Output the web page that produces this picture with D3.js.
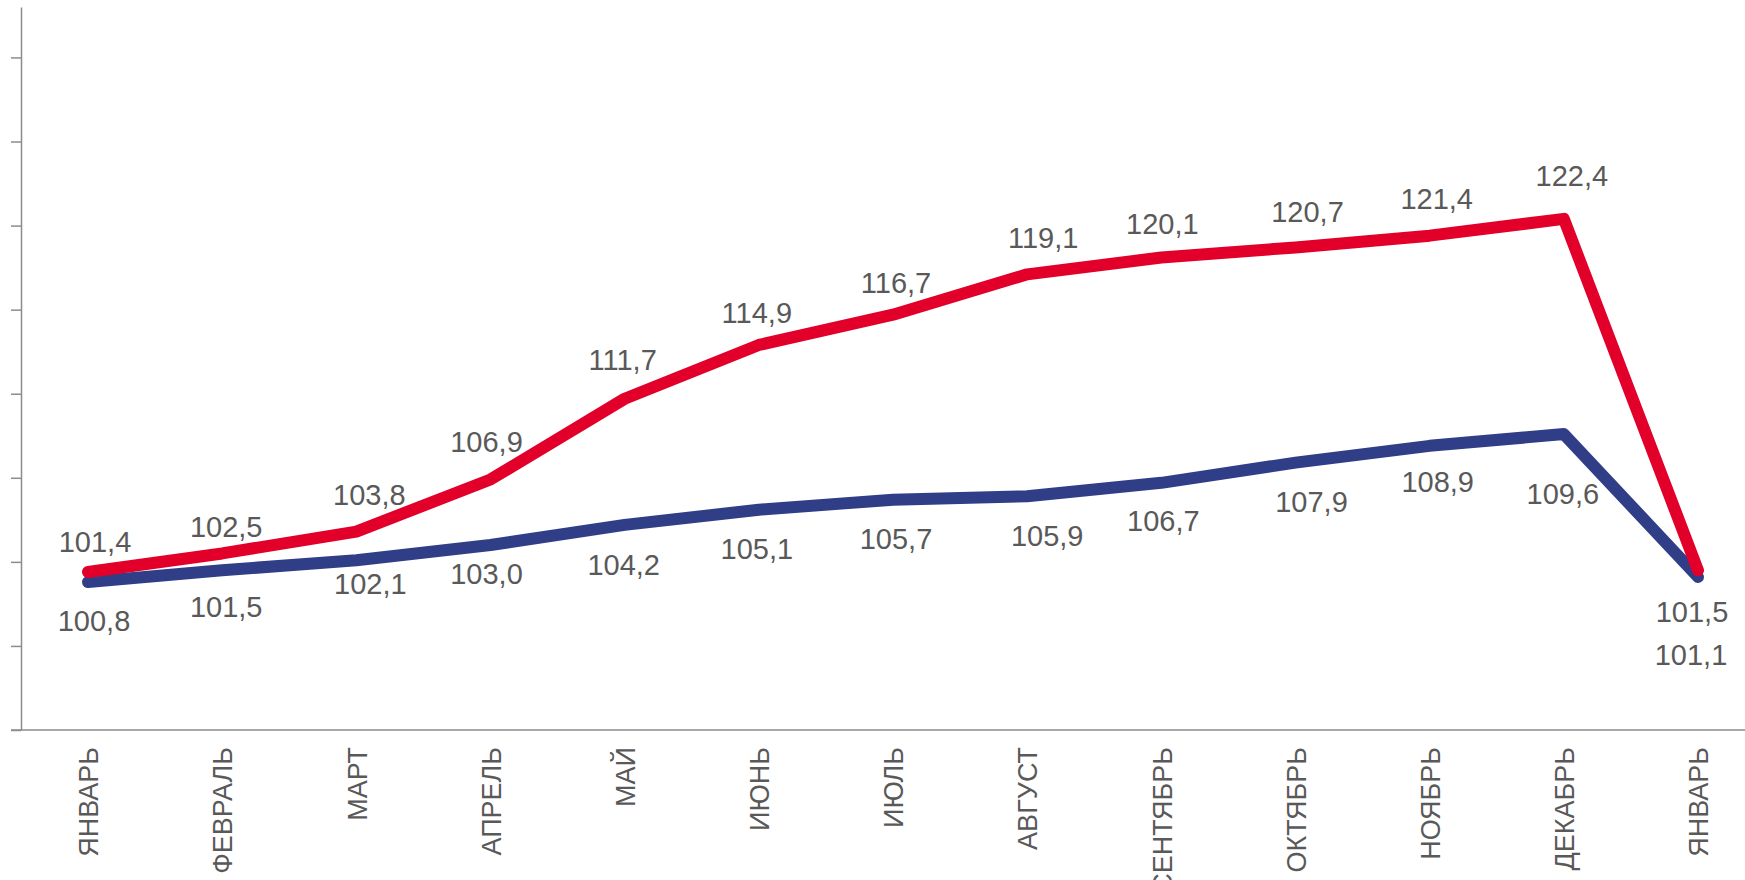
<!doctype html>
<html lang="ru">
<head>
<meta charset="UTF-8">
<title>Индексы по месяцам</title>
<script src="https://d3js.org/d3.v7.min.js"></script>
<style>
  body { margin: 0; background: #fff; }
  svg { display: block; }
</style>
</head>
<body>
<script>
  // месяцы (последний январь - следующий год)
  var months = ["ЯНВАРЬ", "ФЕВРАЛЬ", "МАРТ", "АПРЕЛЬ", "МАЙ", "ИЮНЬ", "ИЮЛЬ",
                "АВГУСТ", "СЕНТЯБРЬ", "ОКТЯБРЬ", "НОЯБРЬ", "ДЕКАБРЬ", "ЯНВАРЬ"];
  var redValues  = [101.4, 102.5, 103.8, 106.9, 111.7, 114.9, 116.7, 119.1, 120.1, 120.7, 121.4, 122.4, 101.5];
  var blueValues = [100.8, 101.5, 102.1, 103.0, 104.2, 105.1, 105.7, 105.9, 106.7, 107.9, 108.9, 109.6, 101.1];
  var yTicks = [92, 97, 102, 107, 112, 117, 122, 127, 132];

  // small hand nudges of the value labels, [dx, dy] in px
  var redShift  = [[7,6],[4,10],[13,-1],[-4,-1],[-2,-3],[-2,4],[3,4],[16,0],[1,2],[12,1],[7,-1],[8,-7],[-6,0]];
  var blueShift = [[6,-1],[4,-3],[14,-16],[-4,-11],[-1,0],[-2,-1],[3,-1],[20,0],[2,-2],[16,-1],[8,-4],[-1,20],[-7,0]];

  var width = 1745, height = 880;
  var textColor = "#595959", axisColor = "#8c8c8c";

  var svg = d3.select("body").append("svg")
      .attr("width", width)
      .attr("height", height);

  var idx = d3.range(months.length);

  var x = d3.scalePoint()
      .domain(idx)
      .range([88, 1698]);

  var y = d3.scaleLinear()
      .domain([92, 135])
      .range([730, 7]);

  // y axis: ticks only, no labels
  var axisY = d3.axisLeft(y)
      .tickValues(yTicks)
      .tickFormat("")
      .tickSize(10)
      .tickSizeOuter(0);

  var gy = svg.append("g")
      .attr("transform", "translate(21,0)")
      .call(axisY);
  gy.select(".domain").attr("stroke", axisColor).attr("stroke-width", 1.5);
  gy.selectAll(".tick line").attr("stroke", axisColor).attr("stroke-width", 1.5);

  // x axis line, starts a bit left of the y axis
  svg.append("line")
      .attr("x1", 11).attr("x2", width)
      .attr("y1", y(92)).attr("y2", y(92))
      .attr("stroke", axisColor)
      .attr("stroke-width", 1.5);

  var axisX = d3.axisBottom(x)
      .tickFormat(function(i) { return months[i]; })
      .tickSize(0);

  var gx = svg.append("g")
      .attr("transform", "translate(0," + y(92) + ")")
      .call(axisX);
  gx.select(".domain").remove();
  gx.selectAll(".tick text")
      .attr("transform", "rotate(-90)")
      .attr("x", -17)
      .attr("y", 0)
      .attr("dy", "0.36em")
      .attr("text-anchor", "end")
      .attr("fill", textColor)
      .style("font-family", "'Liberation Sans Narrow', 'Arial Narrow', 'Liberation Sans', sans-serif")
      .style("font-stretch", "condensed")
      .style("font-size", "27px");

  var line = d3.line()
      .x(function(d, i) { return x(i); })
      .y(function(d) { return y(d); });

  svg.append("path")
      .datum(blueValues)
      .attr("d", line)
      .attr("fill", "none")
      .attr("stroke", "#2f3e87")
      .attr("stroke-width", 12)
      .attr("stroke-linejoin", "round")
      .attr("stroke-linecap", "round");

  svg.append("path")
      .datum(redValues)
      .attr("d", line)
      .attr("fill", "none")
      .attr("stroke", "#e2002b")
      .attr("stroke-width", 12)
      .attr("stroke-linejoin", "round")
      .attr("stroke-linecap", "round");

  function fmt(v) { return v.toFixed(1).replace(".", ","); }

  var last = months.length - 1;

  // value labels: red above, blue below; last point both below
  svg.append("g").selectAll("text")
      .data(redValues)
      .join("text")
      .attr("x", function(d, i) { return x(i) + redShift[i][0]; })
      .attr("y", function(d, i) { return (i === last ? y(d) + 52 : y(d) - 26) + redShift[i][1]; })
      .attr("text-anchor", "middle")
      .attr("fill", textColor)
      .style("font-family", "'Liberation Sans', Arial, sans-serif")
      .style("font-size", "29px")
      .text(fmt);

  svg.append("g").selectAll("text")
      .data(blueValues)
      .join("text")
      .attr("x", function(d, i) { return x(i) + blueShift[i][0]; })
      .attr("y", function(d, i) { return (i === last ? y(d) + 88 : y(d) + 50) + blueShift[i][1]; })
      .attr("text-anchor", "middle")
      .attr("fill", textColor)
      .style("font-family", "'Liberation Sans', Arial, sans-serif")
      .style("font-size", "29px")
      .text(fmt);
</script>
</body>
</html>
